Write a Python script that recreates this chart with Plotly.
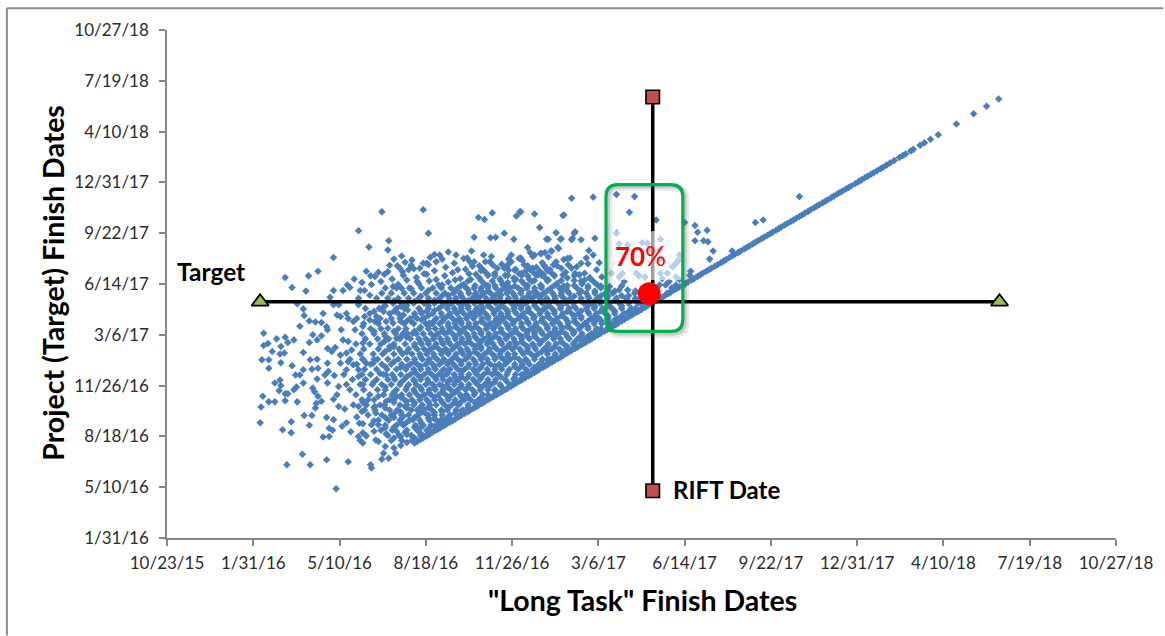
import plotly.graph_objects as go

# Excel-style date serials: 42300 = 10/23/15, step 100 days
x_tick_vals = [42300,42400,42500,42600,42700,42800,42900,43000,43100,43200,43300,43400]
x_tick_text = ["10/23/15","1/31/16","5/10/16","8/18/16","11/26/16","3/6/17","6/14/17","9/22/17","12/31/17","4/10/18","7/19/18","10/27/18"]
y_tick_vals = x_tick_vals[1:]
y_tick_text = x_tick_text[1:]

# (long task finish, project finish)
sparse_points = [
(42439,42544),(42466,42544),(42457,42565),(42485,42554),(42510,42550),(42496,42497),(42536,42544),(42537,42538),(42551,42567),(42549,42555),(42557,42557),(42565,42567),
(42434,42613),(42444,42607),(42444,42629),(42408,42627),(42465,42622),(42459,42641),(42468,42641),(42481,42599),(42488,42600),(42485,42637),(42493,42633),(42488,42616),(42492,42612),(42503,42620),(42508,42627),(42513,42609),(42522,42600),(42524,42592),(42527,42587),(42531,42601),(42542,42593),(42545,42590),(42554,42605),(42566,42610),(42576,42608),
(42409,42658),(42411,42679),(42418,42668),(42425,42668),(42437,42670),(42451,42668),(42430,42690),(42425,42705),(42431,42711),(42432,42700),(42437,42684),(42440,42684),(42447,42692),(42450,42697),(42472,42656),(42473,42665),(42475,42679),(42479,42669),(42469,42695),(42471,42688),(42458,42705),(42474,42713),(42486,42705),(42494,42720),(42499,42698),(42497,42682),(42493,42673),(42499,42659),(42506,42654),(42516,42662),(42522,42659),(42526,42649),(42520,42638),(42523,42626),(42527,42625),(42537,42623),(42545,42623),(42541,42659),(42542,42646),(42533,42672),(42545,42679),(42554,42669),(42566,42679),(42576,42659),(42564,42646),(42574,42639),(42585,42633),(42595,42626),(42599,42646),(42616,42626),(42618,42633),
(42410,42751),(42418,42751),(42418,42734),(42412,42779),(42417,42783),(42422,42767),(42431,42762),(42436,42764),(42432,42777),(42427,42792),(42437,42795),(42440,42785),(42447,42790),(42432,42745),(42445,42739),(42449,42721),(42454,42721),(42458,42731),(42458,42765),(42465,42785),(42469,42800),(42474,42790),(42479,42798),(42474,42752),(42466,42751),(42468,42732),(42475,42734),(42486,42744),(42487,42728),(42483,42721),(42495,42775),(42486,42773),(42491,42767),(42501,42760),(42508,42764),(42514,42770),(42501,42744),(42510,42747),(42516,42741),(42508,42731),(42522,42731),(42522,42718),(42531,42744),(42539,42744),(42547,42724),(42554,42721),(42412,42803),
(42437,42913),(42445,42893),(42461,42886),(42464,42916),(42475,42925),(42493,42952),(42522,43005),(42549,43042),(42597,43046),(42603,43000),(42534,42973),(42557,42985),(42556,42967),(42451,42861),(42458,42851),(42459,42838),(42465,42827),(42454,42817),(42472,42825),(42481,42842),(42479,42824),(42485,42816),(42486,42810),(42489,42874),(42493,42887),(42493,42859),(42499,42859),(42497,42839),(42501,42836),(42508,42842),(42510,42832),(42504,42887),(42509,42898),(42512,42893),(42517,42910),(42526,42903),(42524,42887),(42529,42887),(42537,42899),(42536,42916),(42545,42923),(42556,42924),(42558,42937),(42563,42949),(42576,42943),(42583,42937),(42597,42941),(42593,42931),(42570,42931),(42573,42924),(42590,42905),(42562,42895),(42572,42891),(42583,42891),(42549,42882),(42535,42878),(42543,42872),(42522,42872),(42522,42859),(42516,42826),(42518,42810),(42502,42810),(42504,42790),(42510,42787),(42529,42836),(42535,42829),(42543,42836),(42541,42826),(42551,42855),(42551,42846),(42554,42826),(42562,42823),(42556,42813),(42570,42832),(42574,42839),(42579,42849),(42566,42793),(42552,42787),(42558,42777),(42574,42803),(42585,42803),(42593,42813),(42583,42826),(42595,42829),(42601,42846),(42604,42823),
(42605,42952),(42616,42957),(42626,42963),(42635,42957),(42653,42965),(42667,42957),(42656,42992),(42675,42991),(42681,42992),(42691,43000),(42661,43031),(42668,43027),(42677,43040),(42705,43034),(42709,43042),(42726,43038),(42759,43035),(42732,43011),(42751,43001),(42702,42988),(42718,42972),(42740,42988),(42756,42988),(42772,43000),(42699,42957),(42724,42954),(42733,42960),(42745,42965),(42754,42970),(42612,42944),(42651,42944),(42656,42944),(42662,42936),(42674,42944),(42683,42931),(42691,42931),(42699,42944),(42708,42950),(42724,42931),(42737,42937),(42751,42944),(42764,42950),(42770,42990),
(42769,43069),(42794,43071),(42821,43076),(42842,43072),(42836,43041),(42867,43026),(42900,43021),(42710,43042),(42760,43036),(42773,43003),(42742,42988),(42757,42989),(42753,42972),(42769,42987),(42780,42987),(42796,42990),(42789,42966),(42794,42957),(42786,42951),(42801,42942),(42767,42951),(42746,42965),(42738,42962),(42726,42957),(42734,42960),(42710,42951),(42788,42940),(42798,42928),(42765,42938),(42757,42931),(42769,42931),(42748,42938),(42738,42934),(42721,42928),(42773,42921),(42759,42918),(42746,42921),(42732,42925),(42730,42918),(42790,42913),(42799,42898),(42784,42908),
(42821,43000),(42824,42979),(42834,42977),(42851,42981),(42857,42980),(42872,42988),(42859,42967),(42871,42967),(42894,42957),(42893,42947),(42890,42941),(42886,42934),(42872,42950),(42844,42921),(42847,42916),(42854,42914),(42828,42921),(42824,42914),(42830,42905),(42815,42921),(42813,42895),(42872,42921),(42880,42921),(42874,42911),(42890,42914),(42871,42898),(42878,42898),(42890,42898),(42834,42888),(42824,42888),(42817,42882),
(42912,43015),(42926,43006),(42915,43002),(42912,42985),(42922,42985),(42927,42983),(42933,42965),(42929,42949),(42982,43021),(42991,43026),(43033,43072),(42955,42965),
(42548,42905),(42568,42899),(42578,42908),(42592,42900),(42604,42906),(42615,42898),(42626,42904),(42644,42899),(42652,42909),(42668,42900),(42677,42906),(42689,42899),(42695,42903),(42704,42910),(42714,42900),(42723,42905),(42733,42898),(42742,42908),(42752,42901),(42760,42896),(42772,42907),(42781,42900),(42795,42904),(42882,42905),(42900,42899),
(42541,42915),(42561,42910),(42574,42917),(42589,42913),(42601,42919),(42612,42909),(42622,42916),(42640,42911),(42650,42920),(42662,42912),(42672,42918),(42686,42910),(42692,42917),(42702,42912),(42711,42921),(42720,42909),(42728,42918),(42739,42911),(42749,42916),(42764,42912),(42778,42918),(42791,42910),(42804,42914),(42894,42909),(42906,42917),
(42531,42925),(42552,42919),(42580,42928),(42598,42920),(42610,42926),(42631,42922),(42646,42929),(42658,42919),(42668,42925),(42680,42921),(42696,42927),(42708,42920),(42716,42926),(42725,42922),(42736,42919),(42744,42928),(42762,42923),(42784,42921),(42907,42925),
(42567,42936),(42586,42930),(42603,42938),(42623,42933),(42637,42928),(42654,42935),(42665,42930),(42678,42937),(42694,42934),(42704,42929),(42714,42938),(42728,42933),(42740,42930),(42752,42936),(42775,42934),
(42584,42947),(42601,42941),(42619,42949),(42633,42941),(42648,42951),(42669,42944),(42688,42939),(42712,42946),(42735,42942),(42760,42948),(42780,42941),
(42572,42955),(42610,42958),(42644,42950),(42676,42954),(42696,42949),(42721,42962),(42742,42953),
]

# project finish: long task finishes on that row of the dense cloud
dense_rows = {
42592:[42560,42572,42584,42590],
42602:[42556,42569,42583,42594,42600],
42612:[42548,42561,42578,42590,42601,42610],
42622:[42553,42566,42574,42588,42597,42606,42615,42620],
42632:[42545,42557,42570,42581,42593,42604,42612,42622,42630],
42642:[42533,42549,42560,42572,42580,42591,42603,42610,42619,42628,42640],
42652:[42529,42541,42558,42567,42583,42590,42598,42607,42618,42625,42635,42643,42650],
42662:[42531,42547,42552,42570,42578,42586,42596,42605,42612,42622,42630,42638,42649,42660],
42672:[42526,42540,42558,42563,42575,42584,42593,42601,42610,42617,42626,42634,42645,42652,42661,42670],
42682:[42519,42535,42551,42561,42572,42581,42590,42598,42606,42615,42623,42630,42640,42647,42656,42666,42680],
42692:[42512,42528,42544,42553,42566,42577,42586,42595,42604,42611,42620,42629,42637,42646,42654,42663,42672,42680,42690],
42702:[42508,42524,42538,42549,42560,42570,42580,42589,42600,42608,42616,42625,42633,42641,42650,42660,42668,42676,42686,42700],
42712:[42515,42530,42543,42556,42564,42575,42586,42594,42602,42612,42620,42628,42638,42646,42655,42663,42672,42681,42692,42702,42710],
42722:[42505,42526,42536,42551,42561,42571,42582,42590,42598,42607,42615,42624,42633,42641,42650,42659,42667,42677,42684,42694,42704,42713,42720],
42732:[42529,42543,42555,42566,42577,42586,42594,42603,42611,42621,42628,42637,42645,42655,42662,42671,42680,42688,42697,42707,42716,42724,42730],
42742:[42520,42536,42549,42560,42572,42582,42590,42600,42608,42616,42625,42632,42641,42650,42658,42666,42675,42685,42692,42703,42712,42720,42731,42740],
42752:[42512,42527,42544,42556,42568,42578,42587,42596,42604,42613,42621,42630,42637,42646,42655,42664,42671,42680,42690,42698,42708,42716,42726,42735,42744,42750],
42762:[42524,42539,42550,42563,42573,42584,42593,42601,42609,42618,42626,42635,42643,42651,42660,42668,42677,42686,42695,42703,42713,42722,42730,42741,42750,42760],
42772:[42528,42545,42558,42569,42580,42590,42598,42606,42615,42623,42631,42640,42648,42657,42664,42674,42682,42691,42700,42709,42718,42727,42737,42746,42755,42763,42770],
42782:[42519,42535,42548,42563,42576,42587,42595,42603,42612,42620,42628,42637,42645,42653,42662,42671,42678,42688,42697,42705,42714,42724,42732,42742,42751,42760,42771,42780],
42792:[42530,42544,42557,42570,42582,42592,42600,42609,42617,42625,42634,42642,42650,42659,42667,42676,42685,42693,42702,42711,42720,42729,42738,42748,42756,42766,42776,42785,42790],
42802:[42526,42540,42552,42565,42579,42589,42597,42606,42614,42622,42631,42639,42647,42656,42664,42673,42681,42690,42699,42707,42717,42726,42735,42744,42753,42762,42771,42781,42792,42800],
42812:[42536,42548,42568,42577,42593,42603,42611,42619,42628,42637,42644,42653,42661,42670,42678,42687,42696,42704,42713,42722,42731,42741,42750,42758,42768,42778,42788,42798,42810],
42822:[42528,42545,42575,42586,42600,42608,42616,42626,42634,42641,42650,42658,42668,42675,42684,42693,42701,42711,42719,42728,42738,42747,42755,42765,42775,42784,42795,42804,42814,42820],
42832:[42520,42547,42560,42582,42590,42598,42612,42622,42631,42639,42647,42655,42665,42672,42682,42690,42698,42708,42716,42725,42735,42744,42752,42762,42772,42780,42792,42801,42811,42822,42830],
42842:[42535,42558,42568,42587,42595,42608,42618,42628,42636,42644,42652,42662,42669,42679,42687,42695,42705,42713,42722,42732,42741,42749,42759,42769,42777,42789,42798,42808,42819,42830,42840],
42852:[42530,42546,42566,42575,42592,42603,42615,42625,42633,42641,42649,42659,42666,42676,42684,42692,42702,42710,42719,42729,42738,42746,42756,42766,42774,42786,42795,42805,42816,42827,42838,42850],
42862:[42562,42572,42586,42598,42610,42620,42630,42638,42646,42656,42664,42673,42681,42689,42699,42707,42716,42726,42735,42743,42753,42763,42771,42783,42792,42802,42813,42824,42835,42846,42860],
42872:[42556,42568,42580,42592,42603,42616,42627,42635,42643,42654,42661,42670,42678,42686,42696,42704,42713,42723,42732,42740,42750,42760,42768,42780,42789,42799,42810,42821,42832,42843,42855,42870],
42882:[42560,42575,42586,42600,42612,42622,42632,42640,42650,42658,42667,42675,42684,42694,42701,42710,42720,42729,42737,42747,42757,42766,42778,42786,42796,42808,42842,42866,42880],
42892:[42553,42566,42581,42595,42608,42618,42629,42637,42647,42656,42664,42672,42681,42692,42698,42707,42717,42726,42734,42745,42755,42763,42775,42788,42803,42858,42885,42890],
}

# long task finish: project finishes in that column of the dense cloud
dense_columns = {
42527:[42607,42667,42702,42752,42784,42817],
42540:[42610,42631,42657,42707,42752,42807,42846],
42553:[42580,42617,42637,42656,42697,42737,42767,42797,42857],
42563:[42577,42597,42618,42637,42667,42687,42717,42747,42777,42807,42846,42867],
42571:[42582,42600,42627,42648,42677,42706,42736,42767,42796,42826,42856],
42578:[42588,42604,42628,42656,42669,42697,42718,42737,42766,42795,42827,42858],
42587:[42597,42618,42637,42666,42688,42708,42727,42747,42777,42807,42836,42866],
42594:[42606,42617,42646,42658,42677,42696,42716,42738,42757,42786,42815,42847,42876],
42603:[42614,42636,42657,42668,42686,42707,42727,42748,42768,42787,42817,42838,42857,42887],
42610:[42620,42635,42647,42677,42697,42717,42737,42757,42777,42797,42828,42848,42868],
42619:[42627,42648,42667,42687,42699,42719,42729,42747,42767,42786,42807,42826,42836,42857,42877,42898],
42626:[42638,42657,42676,42696,42707,42726,42746,42766,42787,42806,42817,42838,42858,42878],
42634:[42646,42667,42687,42707,42717,42738,42757,42777,42796,42816,42827,42847,42867,42887,42908],
42641:[42650,42668,42678,42698,42717,42728,42747,42767,42786,42807,42826,42847,42857,42877,42897],
42649:[42657,42677,42697,42717,42737,42757,42768,42787,42797,42817,42837,42856,42867,42888,42906],
42657:[42666,42686,42707,42727,42747,42766,42778,42796,42816,42836,42847,42868,42878,42897],
42664:[42676,42696,42716,42736,42756,42776,42787,42806,42826,42846,42858,42877,42887,42907,42926],
42672:[42682,42697,42707,42727,42746,42767,42786,42796,42817,42836,42857,42867,42886,42897,42917],
42680:[42690,42707,42726,42738,42757,42776,42797,42816,42826,42847,42867,42877,42897,42916],
42687:[42699,42717,42737,42756,42767,42786,42806,42827,42838,42857,42878,42887,42906],
42695:[42706,42727,42747,42758,42777,42797,42817,42837,42847,42868,42886,42897,42917,42938],
42703:[42716,42737,42756,42776,42787,42807,42827,42846,42857,42877,42896,42907,42927],
42711:[42722,42738,42747,42767,42786,42797,42816,42837,42856,42867,42887,42906,42917],
42718:[42727,42748,42767,42777,42796,42807,42826,42847,42866,42876,42897,42916,42936],
42726:[42736,42757,42776,42797,42806,42817,42836,42857,42876,42886,42907],
42734:[42746,42766,42787,42806,42827,42847,42867,42878,42896,42917],
42741:[42751,42768,42778,42797,42816,42836,42857,42868,42887,42906,42926],
42749:[42757,42776,42796,42807,42826,42847,42867,42877,42897,42917],
42757:[42767,42786,42806,42817,42837,42857,42877,42887,42907],
42764:[42777,42796,42816,42827,42846,42866,42886,42897],
42772:[42785,42806,42826,42837,42856,42876,42897,42916],
42780:[42790,42798,42816,42836,42847,42866,42886,42906],
42788:[42797,42816,42827,42846,42857,42876,42896],
42796:[42806,42826,42837,42856,42867,42886],
42803:[42812,42828,42847,42866,42877,42896],
42811:[42822,42837,42857,42876,42887],
42819:[42829,42847,42867,42886],
42827:[42837,42857,42877,42896],
42835:[42846,42866,42877],
42843:[42852,42868,42886],
42851:[42860,42878],
}

# tasks whose finish sets the project finish (both dates equal), the diagonal edge
diagonal_finish = [42587,42590,42594,42597,42601,42604,42607,42611,42614,42617,42621,42624,42628,42631,42634,42638,42641,42645,42648,42651,42655,42658,42661,42665,42668,42672,42675,42678,42682,42685,42688,42692,42695,42699,42702,42705,42709,42712,42715,42719,42722,42726,42729,42732,42736,42739,42742,42746,42749,42753,42756,42759,42763,42766,42769,42773,42776,42780,42783,42786,42790,42793,42796,42800,42803,42807,42810,42813,42817,42820,42823,42827,42830,42834,42837,42840,42844,42847,42850,42854,42857,42861,42864,42867,42871,42874,42877,42881,42884,42888,42891,42894,42898,42901,42904,42908,42911,42915,42918,42921,42925,42928,42931,42935,42938,42942,42945,42948,42952,42955,42958,42962,42965,42969,42972,42975,42979,42982,42985,42989,42992,42996,42999,43002,43006,43009,43012,43016,43019,43023,43026,43029,43033,43036,43039,43043,43046,43050,43053,43056,43060,43063,43066,43070,43073,43077,43080,43083,43087,43090,43093,43098,43102,43105,43109,43112,43116,43119,43123,43127,43130,43134,43138,43143,43149,43153,43156,43162,43165,43173,43178,43185,43194,43215,43235,43250,43264]

target_x = [42408,43265]
target_y = [42865,42865]
rift_x = [42863,42863]
rift_y = [42493,43268]
marker_x = [42859]
marker_y = [42881]

long_task = [p[0] for p in sparse_points]
project = [p[1] for p in sparse_points]
for row_y, row_xs in dense_rows.items():
    long_task += row_xs
    project += [row_y] * len(row_xs)
for col_x, col_ys in dense_columns.items():
    long_task += [col_x] * len(col_ys)
    project += col_ys
long_task += diagonal_finish
project += diagonal_finish

W, H = 1165, 636
L, R, T, B = 166.5, 1117.7, 29.7, 538.3
FONT = "Lato, Carlito, Calibri, sans-serif"
def sx(p):
    return 42300 + (p - L) * 1100 / (R - L)
def sy(p):
    return 42400 + (B - p) * 1000 / (B - T)
def fx(p):
    return (p - L) / (R - L)
def fy(p):
    return (B - p) / (B - T)

fig = go.Figure()
fig.add_trace(go.Scatter(x=long_task, y=project, mode="markers", hoverinfo="skip",
                         marker=dict(symbol="diamond", size=5.8, color="#4A7EBB", line=dict(width=0))))
fig.add_trace(go.Scatter(x=target_x, y=target_y, mode="lines+markers",
                         line=dict(color="black", width=3.5),
                         marker=dict(symbol="triangle-up", size=15, color="#9BBB59", line=dict(color="black", width=1.8))))
fig.add_trace(go.Scatter(x=rift_x, y=rift_y, mode="lines+markers",
                         line=dict(color="black", width=3.5),
                         marker=dict(symbol="square", size=13.5, color="#C0504D", line=dict(color="black", width=1.6))))
fig.add_trace(go.Scatter(x=marker_x, y=marker_y, mode="markers",
                         marker=dict(symbol="circle", size=23, color="#FF0000", line=dict(width=0))))

def round_box(x0, x1, y0, y1, r, dx=0, dy=0):
    a, b, c, d = sx(x0 + dx), sx(x1 + dx), sy(y0 + dy), sy(y1 + dy)
    rx = r * 1100 / (R - L)
    ry = r * 1000 / (B - T)
    return (f"M {a+rx} {c} L {b-rx} {c} Q {b} {c} {b} {c-ry} L {b} {d+ry} Q {b} {d} {b-rx} {d} "
            f"L {a+rx} {d} Q {a} {d} {a} {d+ry} L {a} {c-ry} Q {a} {c} {a+rx} {c} Z")

shapes = [
    dict(type="rect", xref="x", yref="y", x0=sx(608), x1=sx(682), y0=sy(280), y1=sy(231),
         fillcolor="rgba(255,255,255,0.62)", line=dict(width=0), layer="above"),
    dict(type="path", xref="x", yref="y", path=round_box(606.5, 683.5, 184.5, 331.5, 12, 3, 3),
         line=dict(color="rgba(90,90,90,0.13)", width=7), layer="above"),
    dict(type="path", xref="x", yref="y", path=round_box(606.5, 683.5, 184.5, 331.5, 12, 2, 2),
         line=dict(color="rgba(90,90,90,0.22)", width=4), layer="above"),
    dict(type="path", xref="x", yref="y", path=round_box(606.5, 683.5, 184.5, 331.5, 12),
         line=dict(color="#00B050", width=3.2), layer="above"),
    dict(type="line", xref="paper", yref="paper", x0=fx(6), x1=fx(6), y0=fy(8), y1=fy(636),
         line=dict(color="#8C8C8C", width=2)),
    dict(type="line", xref="paper", yref="paper", x0=fx(6), x1=fx(1165), y0=fy(8), y1=fy(8),
         line=dict(color="#8C8C8C", width=2)),
]

def label(text, px_x, px_y, size, color="black", angle=0):
    return dict(text=text, xref="paper", yref="paper", x=fx(px_x), y=fy(px_y),
                xanchor="center", yanchor="middle", showarrow=False, textangle=angle,
                font=dict(family=FONT, size=size, color=color))

annotations = [
    label("<b>Project (Target) Finish Dates</b>", 52, 283, 28.5, angle=-90),
    label("<b>\"Long Task\" Finish Dates</b>", 643, 600, 28.5),
    label("<b>Target</b>", 211, 271, 24.5),
    label("<b>RIFT Date</b>", 727, 490, 24),
    label("<b>70</b>%", 641, 256, 26, color="#FF0000"),
]

axis_common = dict(showgrid=False, zeroline=False, showline=True, linecolor="#868686", linewidth=1.5,
                   ticks="outside", ticklen=6, tickwidth=1.5, tickcolor="#868686",
                   tickfont=dict(family=FONT, size=17, color="#2b2b2b"), tickmode="array")
fig.update_layout(
    width=W, height=H, showlegend=False, paper_bgcolor="white", plot_bgcolor="white",
    margin=dict(l=L, r=W - R, t=T, b=H - B, pad=0),
    shapes=shapes, annotations=annotations,
    xaxis=dict(range=[42300, 43400], tickvals=x_tick_vals, ticktext=x_tick_text, ticklabelstandoff=3, **axis_common),
    yaxis=dict(range=[42400, 43400], tickvals=y_tick_vals, ticktext=y_tick_text, ticklabelstandoff=7, **axis_common),
)
fig.write_html("out.html", config={"displayModeBar": False},
               post_script="document.body.style.margin='0';document.body.style.overflow='hidden';")
